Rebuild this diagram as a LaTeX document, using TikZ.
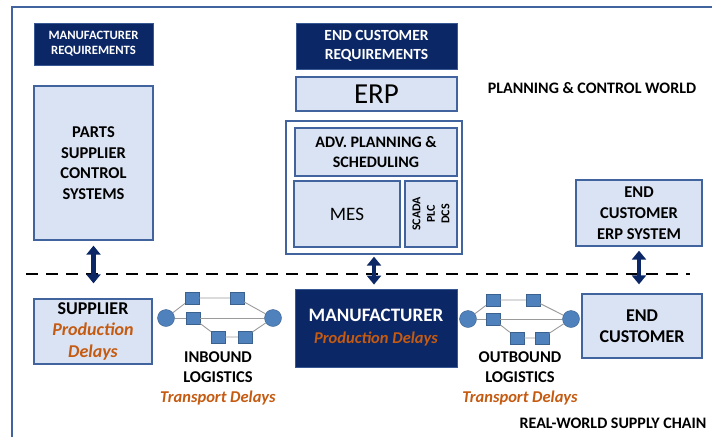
\documentclass[tikz,border=0pt]{standalone}
\usepackage{fontspec}
\setmainfont{Carlito}
\usetikzlibrary{arrows.meta}

\definecolor{navybox}{HTML}{0C2766}
\definecolor{lightbox}{HTML}{DAE3F3}
\definecolor{boxline}{HTML}{42649E}
\definecolor{delayorange}{HTML}{C55A11}
\definecolor{netblue}{HTML}{4F81BD}
\definecolor{netline}{HTML}{9A9A9A}

\newcommand{\boxfont}[2]{\fontsize{#1}{#2}\selectfont\bfseries}
\newcommand{\delaytxt}[1]{\textcolor{delayorange}{\itshape #1}}

\tikzset{
  lbox/.style={draw=boxline, line width=1.3pt, fill=lightbox, align=center, inner sep=0pt},
  dbox/.style={draw=boxline!80!navybox, line width=0.8pt, fill=navybox, text=white, align=center, inner sep=0pt},
  dblarrow/.style={draw=navybox, line width=4.5pt, {Triangle[width=14pt,length=9pt]}-{Triangle[width=14pt,length=9pt]}},
  netsq/.style={rectangle, fill=netblue, draw=netblue!75!black, line width=0.4pt, minimum width=14pt, minimum height=12pt, inner sep=0pt},
  netci/.style={circle, fill=netblue, draw=netblue!75!black, line width=0.4pt, minimum size=17pt, inner sep=0pt},
  netedge/.style={draw=netline, line width=0.9pt}
}

\begin{document}
\begin{tikzpicture}[x=1pt, y=-1pt]
        \useasboundingbox (0,0) rectangle (712,437);

        % Frame
        \draw[boxline, line width=1.5pt] (12,437) -- (12,7) -- (712,7);

        % Planning & control world
        \node[dbox, minimum width=119pt, minimum height=42pt, font=\boxfont{12.7}{15}] (mreq) at (93.5,44) {MANUFACTURER\\REQUIREMENTS};
        \node[lbox, minimum width=119pt, minimum height=154pt, font=\boxfont{16.5}{20.5}] (psc) at (93.5,163) {PARTS\\SUPPLIER\\CONTROL\\SYSTEMS};

        \node[dbox, minimum width=161pt, minimum height=46pt, font=\boxfont{15.5}{19}] (ecreq) at (376.5,46) {END CUSTOMER\\REQUIREMENTS};
        \node[lbox, minimum width=161pt, minimum height=34pt, font=\fontsize{29}{30}\selectfont] (erp) at (376.5,94) {ERP};

        \node[draw=boxline, line width=1.3pt, fill=white, minimum width=176pt, minimum height=133pt] (mescont) at (374,187.5) {};
        \node[lbox, minimum width=162pt, minimum height=48pt, font=\boxfont{16}{20}] (aps) at (376,152) {ADV. PLANNING \&\\SCHEDULING};
        \node[lbox, minimum width=106pt, minimum height=66pt, font=\fontsize{19}{22}\selectfont] (mes) at (347,214) {MES};
        \node[lbox, minimum width=52pt, minimum height=66pt] (scada) at (431,214) {};
        \node[rotate=90, align=center, inner sep=0pt, font=\boxfont{12}{14.5}] (scadatxt) at (scada) {SCADA\\PLC\\DCS};

        \node[font=\boxfont{16}{18}] (pcw) at (592,88) {PLANNING \& CONTROL WORLD};

        \node[lbox, minimum width=126pt, minimum height=66pt, font=\boxfont{16.5}{21}] (ecerp) at (639,213) {END\\CUSTOMER\\ERP SYSTEM};

        % Divider
        \coordinate (divl) at (26,274);
        \coordinate (divr) at (690,274);
        \draw[line width=2.5pt, dash pattern=on 12pt off 8pt] (divl) -- (divr);

        % Real-world supply chain
        \node[lbox, minimum width=118pt, minimum height=65pt, font=\boxfont{18}{21.5}] (sup) at (93,331.5) {SUPPLIER\\\delaytxt{Production}\\\delaytxt{Delays}};
        \node[dbox, minimum width=162pt, minimum height=78pt, font=\boxfont{19}{22}] (mfr) at (376,328) {MANUFACTURER\\{\fontsize{16.5}{20}\selectfont\delaytxt{Production Delays}}};
        \node[lbox, minimum width=120pt, minimum height=64pt, font=\boxfont{18}{21}] (endc) at (642,326) {END\\CUSTOMER};

        \node[align=center, font=\boxfont{16.5}{20}] (inbtxt) at (218,378) {INBOUND\\LOGISTICS\\\delaytxt{Transport Delays}};
        \node[align=center, font=\boxfont{16.5}{20}] (outbtxt) at (520,378) {OUTBOUND\\LOGISTICS\\\delaytxt{Transport Delays}};
        \node[font=\boxfont{16}{18}] (rwsc) at (613,423) {REAL-WORLD SUPPLY CHAIN};

        % Inbound network
        \node[netci] (inl) at (166,318) {};
        \node[netci] (inr) at (273,318) {};
        \node[netsq] (ina) at (192,298) {};
        \node[netsq] (inb) at (237,298) {};
        \node[netsq] (inc) at (193,318) {};
        \node[netsq] (ind) at (218,337) {};
        \node[netsq] (ine) at (245,337) {};
        \draw[netedge] (inl) -- (ina) -- (inb) -- (inr);
        \draw[netedge] (inl) -- (inc) -- (inr);
        \draw[netedge] (inc) -- (ind) -- (ine) -- (inr);

        % Outbound network
        \node[netci] (outl) at (468,319) {};
        \node[netci] (outr) at (571,319) {};
        \node[netsq] (outa) at (493,300) {};
        \node[netsq] (outb) at (533,300) {};
        \node[netsq] (outc) at (493,319) {};
        \node[netsq] (outd) at (517,338) {};
        \node[netsq] (oute) at (542,338) {};
        \draw[netedge] (outl) -- (outa) -- (outb) -- (outr);
        \draw[netedge] (outl) -- (outc) -- (outr);
        \draw[netedge] (outc) -- (outd) -- (oute) -- (outr);

        % Links between the worlds
        \draw[dblarrow, shorten <=5pt, shorten >=15pt] (psc.south) -- (psc.south |- sup.north);
        \draw[dblarrow, shorten <=2pt, shorten >=4pt] (mescont.south) -- (mescont.south |- mfr.north);
        \draw[dblarrow, shorten <=4pt, shorten >=9pt] (ecerp.south) -- (ecerp.south |- endc.north);

\end{tikzpicture}
\end{document}
